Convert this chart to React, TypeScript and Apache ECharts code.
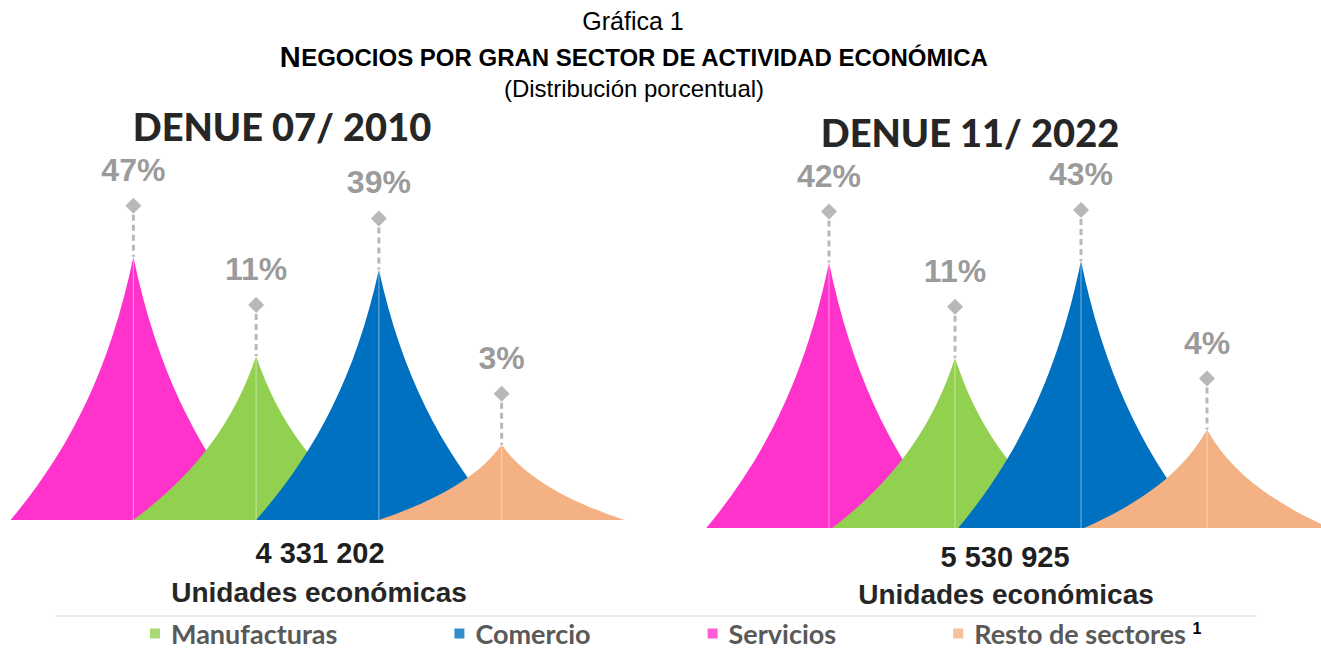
import React, { useEffect, useRef } from "react";
import * as echarts from "echarts";

// ---- data ----
const categories = ["Servicios", "Manufacturas", "Comercio", "Resto de sectores"];
const share2010 = [47, 11, 39, 3];
const share2022 = [42, 11, 43, 4];
const sectorColors = ["#FF33CC", "#92D050", "#0070C0", "#F4B183"];
const legendOrder = ["Manufacturas", "Comercio", "Servicios", "Resto de sectores"];
const panelTitles = ["DENUE 07/ 2010", "DENUE 11/ 2022"];
const totalUnits = [4331202, 5530925];
const unitsLabel = "Unidades económicas";

const SPIKE = "path://M0,10 C2.25,7.5 4,4.5 5,0 C6,4.5 7.75,7.5 10,10 Z";
const MARKER =
  "path://M8,0 L16,8 L8,16 L0,8 Z " +
  "M6.5,17 L9.5,17 L9.5,23 L6.5,23 Z " +
  "M6.5,27 L9.5,27 L9.5,33 L6.5,33 Z " +
  "M6.5,37 L9.5,37 L9.5,43 L6.5,43 Z " +
  "M6.5,47 L9.5,47 L9.5,53 L6.5,53 Z " +
  "M6.5,57 L9.5,57 L9.5,59 L6.5,59 Z";

const ARIAL = "'Liberation Sans', Arial, sans-serif";

function fmtThousands(n: number): string {
  return String(n).replace(/\B(?=(\d{3})+(?!\d))/g, " ");
}

function colorOf(name: string): string {
  return sectorColors[categories.indexOf(name)];
}

function panelSeries(p: number, values: number[], gap: string) {
  return [
    {
      name: "shape" + p,
      type: "pictorialBar",
      xAxisIndex: p,
      yAxisIndex: p,
      symbol: SPIKE,
      barCategoryGap: gap,
      barGap: "-100%",
      z: 2,
      data: values.map((v, i) => ({ value: v, itemStyle: { color: colorOf(categories[i]) } })),
    },
    {
      name: "axis" + p,
      type: "pictorialBar",
      xAxisIndex: p,
      yAxisIndex: p,
      symbol: "rect",
      symbolSize: [1, "100%"],
      barCategoryGap: gap,
      barGap: "-100%",
      itemStyle: { color: "rgba(255,255,255,0.4)" },
      z: 3,
      data: values,
    },
    {
      name: "marker" + p,
      type: "scatter",
      xAxisIndex: p,
      yAxisIndex: p,
      symbol: MARKER,
      symbolSize: [16, 59],
      symbolOffset: [0, "-50%"],
      itemStyle: { color: "#a6a6a6" },
      z: 4,
      label: {
        show: true,
        position: "top",
        distance: 12,
        formatter: (prm: any) => prm.value + "%",
        fontFamily: ARIAL,
        fontSize: 32,
        fontWeight: "bold",
        color: "#808080",
      },
      data: values,
    },
  ];
}

export default function App() {
  const ref = useRef<HTMLDivElement>(null);
  useEffect(() => {
    document.body.style.margin = "0";
    const chart = echarts.init(ref.current!, null, { renderer: "svg" });
    const hiddenX = (p: number) => ({
      type: "category",
      gridIndex: p,
      data: categories,
      axisLine: { show: false },
      axisTick: { show: false },
      axisLabel: { show: false },
      splitLine: { show: false },
    });
    const hiddenY = (p: number) => ({
      type: "log",
      logBase: 10,
      gridIndex: p,
      min: 1,
      max: 100,
      axisLine: { show: false },
      axisTick: { show: false },
      axisLabel: { show: false },
      splitLine: { show: false },
    });
    const txt = (x: number, y: number, text: string, font: string, fill: string) => ({
      type: "text",
      x,
      y,
      silent: true,
      style: { text, font, fill, align: "center", verticalAlign: "middle" },
    });

    chart.setOption({
      animation: false,
      backgroundColor: "#ffffff",
      grid: [
        { left: 72, width: 491, top: 205, bottom: 130 },
        { left: 766, width: 504, top: 201, bottom: 122 },
      ],
      xAxis: [hiddenX(0), hiddenX(1)],
      yAxis: [hiddenY(0), hiddenY(1)],
      legend: {
        data: legendOrder,
        left: 145,
        top: 615,
        icon: "rect",
        itemWidth: 10,
        itemHeight: 10,
        itemGap: 117,
        selectedMode: false,
        formatter: (n: string) =>
          "{gap|}" + (n === "Resto de sectores" ? n + " {sup|1}" : n),
        textStyle: {
          fontFamily: "Lato, sans-serif",
          fontSize: 27,
          lineHeight: 27,
          fontWeight: "bold",
          color: "#595959",
          rich: {
            gap: { width: 6 },
            sup: {
              fontFamily: ARIAL,
              fontSize: 16,
              fontWeight: "bold",
              color: "#000000",
              verticalAlign: "top",
            },
          },
        },
      },
      series: [
        ...panelSeries(0, share2010, "-100%"),
        ...panelSeries(1, share2022, "-95%"),
        ...legendOrder.map((n) => ({
          name: n,
          type: "scatter",
          xAxisIndex: 0,
          yAxisIndex: 0,
          itemStyle: { color: colorOf(n) },
          data: [],
        })),
      ],
      graphic: [
        txt(633, 21, "Gráfica 1", `25px ${ARIAL}`, "#000000"),
        {
          type: "text",
          x: 634,
          y: 57,
          silent: true,
          style: {
            text: "{b|N}{s|EGOCIOS POR GRAN SECTOR DE ACTIVIDAD ECONÓMICA}",
            align: "center",
            verticalAlign: "middle",
            rich: {
              b: { fontFamily: ARIAL, fontSize: 29, fontWeight: "bold", fill: "#000", color: "#000" },
              s: { fontFamily: ARIAL, fontSize: 24, fontWeight: "bold", fill: "#000", color: "#000" },
            },
          },
        },
        txt(634, 88, "(Distribución porcentual)", `24px ${ARIAL}`, "#000000"),
        txt(282, 126, panelTitles[0], "900 38px Lato, sans-serif", "#262626"),
        txt(970, 132, panelTitles[1], "900 38px Lato, sans-serif", "#262626"),
        txt(320, 553, fmtThousands(totalUnits[0]), `bold 29px ${ARIAL}`, "#1f1f1f"),
        txt(319, 592, unitsLabel, `bold 28px ${ARIAL}`, "#262626"),
        txt(1005, 557, fmtThousands(totalUnits[1]), `bold 29px ${ARIAL}`, "#1f1f1f"),
        txt(1006, 594, unitsLabel, `bold 28px ${ARIAL}`, "#262626"),
        {
          type: "line",
          silent: true,
          shape: { x1: 55, y1: 616, x2: 1257, y2: 616 },
          style: { stroke: "#d9d9d9", lineWidth: 1 },
        },
      ],
    });
    return () => chart.dispose();
  }, []);
  return <div ref={ref} style={{ width: 1321, height: 650 }} />;
}
